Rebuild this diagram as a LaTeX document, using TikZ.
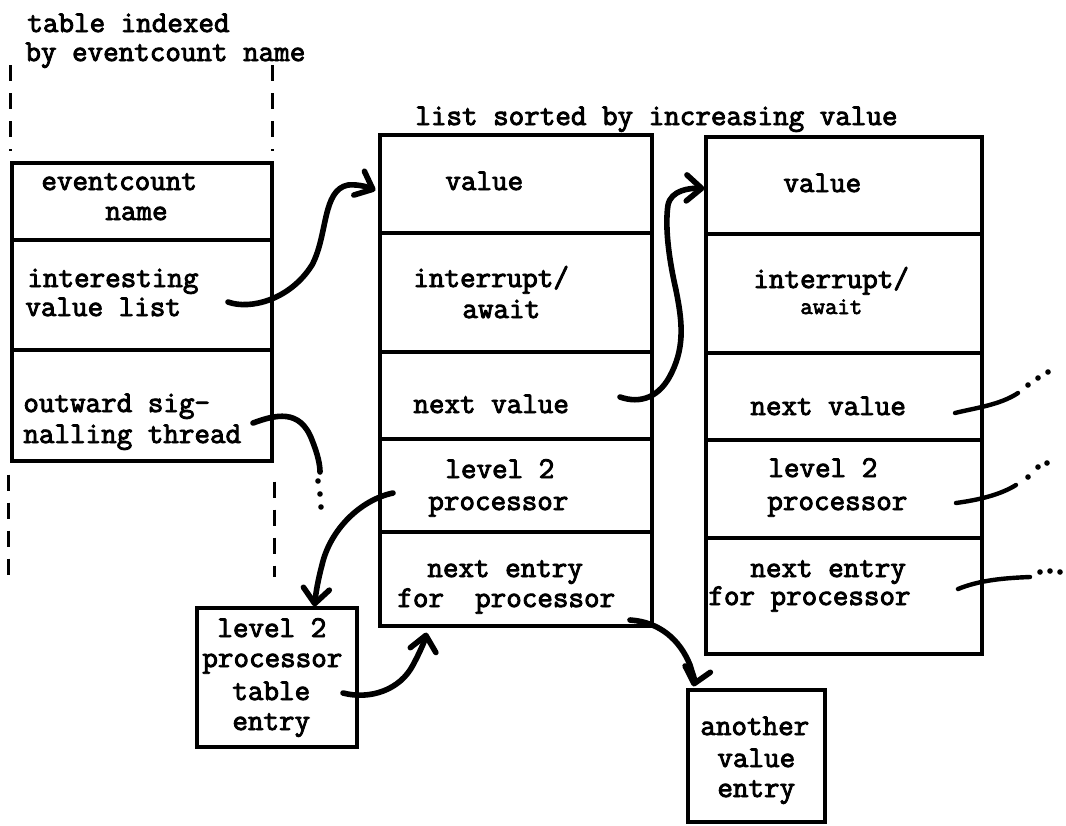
\documentclass[tikz,border=0pt]{standalone}
\usepackage{fontspec}
\newfontfamily\twfont{Latin Modern Mono}[FakeBold=3]
\usetikzlibrary{arrows.meta,fit,calc}
\begin{document}
\begin{tikzpicture}[x=0.5pt,y=-0.5pt,
  cell/.style={draw, rectangle, line width=1.6pt, inner sep=0pt},
  txt/.style={font=\twfont\fontsize{15.1}{17}\selectfont, inner sep=0pt, anchor=base west},
  smalltxt/.style={font=\twfont\fontsize{12}{14}\selectfont, inner sep=0pt, anchor=base west},
  conn/.style={line width=2.8pt, line cap=round, line join=round},
  tick/.style={line width=2.2pt, line cap=round},
  barb/.style={-{Straight Barb[length=7.5pt,width=13pt,line width=2.8pt,round]}},
  dashline/.style={line width=1.6pt, dash pattern=on 8pt off 6pt}
]
\useasboundingbox (0,0) rectangle (1066,825);

% ---- left table ----
\node[cell, fit={(12,163) (272,240)}] (L1) {};
\node[cell, fit={(12,240) (272,350)}] (L2) {};
\node[cell, fit={(12,350) (272,461)}] (L3) {};
% ---- middle list entry ----
\node[cell, fit={(380,135) (652,233)}] (M1) {};
\node[cell, fit={(380,233) (652,352)}] (M2) {};
\node[cell, fit={(380,352) (652,439)}] (M3) {};
\node[cell, fit={(380,439) (652,532)}] (M4) {};
\node[cell, fit={(380,532) (652,626)}] (M5) {};
% ---- right list entry ----
\node[cell, fit={(706,137) (982,234)}] (R1) {};
\node[cell, fit={(706,234) (982,353)}] (R2) {};
\node[cell, fit={(706,353) (982,440)}] (R3) {};
\node[cell, fit={(706,440) (982,538)}] (R4) {};
\node[cell, fit={(706,538) (982,654)}] (R5) {};
% ---- small boxes ----
\node[cell, fit={(197,608) (357,747)}] (P) {};
\node[cell, fit={(688,690) (825,822)}] (A) {};

% ---- dashed table extension ----
\draw[dashline] ($(L1.north west)+(0,-96)$) -- ($(L1.north west)+(0,-10)$);
\draw[dashline] ($(L1.north east)+(-1,-96)$) -- ($(L1.north east)+(-1,-10)$);
\draw[dashline] ($(L3.south west)+(-2,12)$) -- ($(L3.south west)+(-2,122)$);
\draw[dashline] ($(L3.south east)+(1,19)$) -- ($(L3.south east)+(1,114)$);

% ---- texts ----
\node[txt] (t01) at (27,32) {table indexed};
\node[txt] (t02) at (25,61) {by eventcount name};
\node[txt] (t03) at (41,190) {eventcount};
\node[txt] (t04) at (105,220) {name};
\node[txt] (t05) at (27,287) {interesting};
\node[txt] (t06) at (25,316) {value list};
\node[txt] (t07) at (23,412) {outward sig-};
\node[txt] (t08) at (23,443) {nalling thread};
\node[txt] (t09) at (415,125) {list sorted by increasing value};
\node[txt] (t10) at (445,190) {value};
\node[txt] (t11) at (413,287) {interrupt/};
\node[txt] (t12) at (462,318) {await};
\node[txt] (t13) at (413,413) {next value};
\node[txt] (t14) at (445,478) {level 2};
\node[txt] (t15) at (428,510) {processor};
\node[txt] (t16) at (427,577) {next entry};
\node[txt] (t17) at (397,607) {for\ \ processor};
\node[txt] (t18) at (783,192) {value};
\node[txt] (t19) at (753,288) {interrupt/};
\node[smalltxt] (t20) at (800,314) {await};
\node[txt] (t21) at (750,415) {next value};
\node[txt] (t22) at (768,477) {level 2};
\node[txt] (t23) at (767,510) {processor};
\node[txt] (t24) at (750,577) {next entry};
\node[txt] (t25) at (708,605) {for processor};
\node[txt] (t26) at (217,637) {level 2};
\node[txt] (t27) at (202,667) {processor};
\node[txt] (t28) at (232,700) {table};
\node[txt] (t29) at (232,730) {entry};
\node[txt] (t30) at (700,735) {another};
\node[txt] (t31) at (717,767) {value};
\node[txt] (t32) at (717,797) {entry};

% ---- connector end points ----
\coordinate (s1) at (228,302);
\coordinate (e1) at ($(M1.north west)+(-3,57)$);
\coordinate (s2) at (620,397);
\coordinate (e2) at ($(R1.north west)+(0,53)$);
\coordinate (s3) at (253,423);
\coordinate (e3) at (320,472);
\coordinate (s4) at (393,493);
\coordinate (e4) at ($(P.north west)+(119,0)$);
\coordinate (s5) at (343,693);
\coordinate (e5) at ($(M5.south west)+(48,5)$);
\coordinate (s6) at (630,620);
\coordinate (e6) at ($(A.north west)+(7,-2)$);
\coordinate (ra) at (955,413);
\coordinate (rae) at (1018,393);
\coordinate (rb) at (956,503);
\coordinate (rbe) at (1016,485);
\coordinate (rc) at (958,589);
\coordinate (rce) at (1030,577);

% ---- connectors ----
\draw[conn,barb] (s1) .. controls (250,310) and (290,300) .. (312,265)
  .. controls (328,235) and (322,190) .. (348,185)
  .. controls (360,184) and (370,188) .. (e1);
\draw[conn,barb] (s2) .. controls (640,404) and (660,398) .. (672,372)
  .. controls (685,345) and (682,320) .. (676,290)
  .. controls (668,255) and (665,225) .. (668,205)
  .. controls (671,190) and (690,188) .. (e2);
\draw[conn] (s3) .. controls (275,415) and (300,408) .. (312,440)
  .. controls (318,455) and (320,465) .. (e3);
\draw[conn,barb] (s4) .. controls (360,500) and (330,530) .. (322,565)
  .. controls (318,580) and (316,592) .. (e4);
\draw[conn,barb] (s5) .. controls (370,700) and (400,690) .. (413,665)
  .. controls (420,652) and (425,640) .. (e5);
\draw[conn,barb] (s6) .. controls (660,622) and (680,640) .. (690,665)
  .. controls (693,675) and (695,680) .. (e6);
\draw[tick] (ra) .. controls (975,408) and (1000,405) .. (rae);
\draw[tick] (rb) .. controls (978,500) and (1000,495) .. (rbe);
\draw[tick] (rc) .. controls (980,580) and (1005,578) .. (rce);

% ---- trailing dots ----
\foreach \p in {(318,481),(320,494),(321,507),
                (1028,385),(1038,378),(1048,372),
                (1028,477),(1038,467),(1047,463),
                (1040,572),(1050,571),(1060,572)}
  \fill \p circle[radius=1.4pt];
\end{tikzpicture}
\end{document}
